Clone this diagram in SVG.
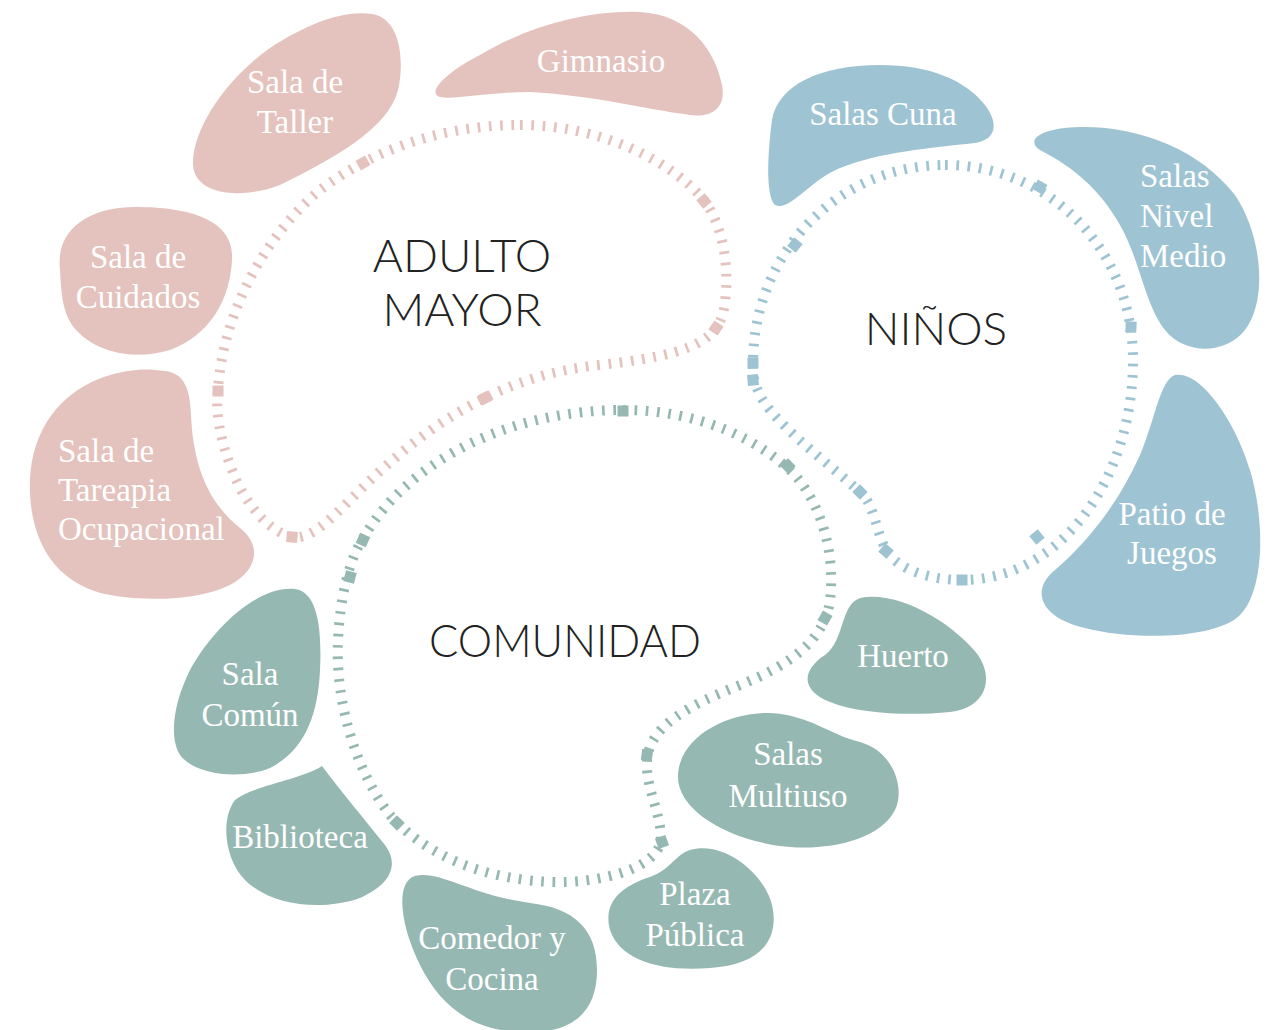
<svg xmlns="http://www.w3.org/2000/svg" width="1278" height="1030" viewBox="0 0 1278 1030">
<style>
.pink{fill:#e4c2be}
.blue{fill:#9ec4d3}
.green{fill:#96b8b2}
.tk{fill:none;stroke-width:10;stroke-dasharray:2.7 8.6}
.tp{stroke:#e4c2be}
.tb{stroke:#9ec4d3}
.tg{stroke:#96b8b2}
.lbl{font-family:"Liberation Serif","Times New Roman",serif;font-size:33px;fill:#ffffff;text-anchor:middle}
.lft{text-anchor:start}
.ttl{font-family:Lato,"DejaVu Sans",sans-serif;font-size:46px;fill:#222222;text-anchor:middle;font-weight:300}
</style>
<rect width="1278" height="1030" fill="#ffffff"/>

<g id="adulto-mayor">
<path class="tk tp" d="M 520,125 C 600,125 670,160 704,200 C 722,225 728,260 726,290 C 725,310 722,320 716,328 C 700,350 660,358 600,365 C 550,370 510,385 485,398 C 430,425 390,460 350,500 C 330,520 310,540 292,537 C 270,532 245,505 232,470 C 220,440 215,410 218,390 C 222,320 260,240 320,190 C 380,145 450,125 520,125 Z"/>
<g class="pink">
<rect x="-5.5" y="-5.5" width="11" height="11" transform="translate(363,163) rotate(-30)"/>
<rect x="-5.5" y="-5.5" width="11" height="11" transform="translate(704,201) rotate(50)"/>
<rect x="-5.5" y="-5.5" width="11" height="11" transform="translate(716,328) rotate(33)"/>
<rect x="-5.5" y="-5.5" width="11" height="11" transform="translate(485,398) rotate(-27)"/>
<rect x="-5.5" y="-5.5" width="11" height="11" transform="translate(292,537) rotate(5)"/>
<rect x="-5.5" y="-5.5" width="11" height="11" transform="translate(218,391) rotate(0)"/>
</g>
<text class="ttl" x="462" y="272">ADULTO</text>
<text class="ttl" x="462" y="326">MAYOR</text>
</g>

<g id="ninos">
<path class="tk tb" d="M 945,165 C 1050,165 1133,250 1133,360 C 1133,480 1060,580 962,580 C 930,580 900,570 887,552 C 875,530 875,505 860,492 C 830,465 790,435 770,410 C 755,392 752,375 753,360 C 755,250 840,165 945,165 Z"/>
<g class="blue">
<rect x="-5.5" y="-5.5" width="11" height="11" transform="translate(1040,187) rotate(30)"/>
<rect x="-5.5" y="-5.5" width="11" height="11" transform="translate(795,245) rotate(40)"/>
<rect x="-5.5" y="-5.5" width="11" height="11" transform="translate(1131,327) rotate(3)"/>
<rect x="-5.5" y="-5.5" width="11" height="11" transform="translate(753,363) rotate(0)"/>
<rect x="-5.5" y="-5.5" width="11" height="11" transform="translate(753,380) rotate(-5)"/>
<rect x="-5.5" y="-5.5" width="11" height="11" transform="translate(860,492) rotate(45)"/>
<rect x="-5.5" y="-5.5" width="11" height="11" transform="translate(886,551) rotate(40)"/>
<rect x="-5.5" y="-5.5" width="11" height="11" transform="translate(962,580) rotate(0)"/>
<rect x="-5.5" y="-5.5" width="11" height="11" transform="translate(1037,537) rotate(50)"/>
</g>
<text class="ttl" x="936" y="345">NIÑOS</text>
</g>

<g id="comunidad">
<path class="tk tg" d="M 623,410 C 700,410 760,440 795,475 C 825,510 835,560 830,600 C 825,640 790,665 740,685 C 690,705 650,725 647,760 C 645,790 665,820 660,845 C 650,870 600,882 560,882 C 480,882 420,850 390,815 C 355,770 335,700 338,640 C 340,600 348,560 365,535 C 410,460 510,410 623,410 Z"/>
<g class="green">
<rect x="-5.5" y="-5.5" width="11" height="11" transform="translate(623,411) rotate(0)"/>
<rect x="-5.5" y="-5.5" width="11" height="11" transform="translate(788,466) rotate(45)"/>
<rect x="-5.5" y="-5.5" width="11" height="11" transform="translate(825,618) rotate(30)"/>
<rect x="-5.5" y="-5.5" width="11" height="11" transform="translate(647,755) rotate(8)"/>
<rect x="-5.5" y="-5.5" width="11" height="11" transform="translate(662,842) rotate(-20)"/>
<rect x="-5.5" y="-5.5" width="11" height="11" transform="translate(397,823) rotate(45)"/>
<rect x="-5.5" y="-5.5" width="11" height="11" transform="translate(350,577) rotate(15)"/>
<rect x="-5.5" y="-5.5" width="11" height="11" transform="translate(363,540) rotate(25)"/>
</g>
<text class="ttl" x="565" y="657" textLength="272" lengthAdjust="spacingAndGlyphs">COMUNIDAD</text>
</g>

<g id="sala-taller">
<path class="pink" d="M 372,14 C 400,18 405,60 398,90 C 388,130 330,160 280,185 C 240,200 195,195 193,165 C 192,130 225,80 270,48 C 310,22 345,10 372,14 Z"/>
<text class="lbl" x="295" y="93">Sala de</text>
<text class="lbl" x="295" y="133">Taller</text>
</g>
<g id="gimnasio">
<path class="pink" d="M 440,97 C 425,92 450,70 480,55 C 530,25 590,10 640,12 C 690,15 715,50 722,85 C 726,105 715,118 690,115 C 640,108 590,95 530,92 C 490,92 455,100 440,97 Z"/>
<text class="lbl" x="601" y="72">Gimnasio</text>
</g>
<g id="sala-cuidados">
<path class="pink" d="M 60,270 C 55,225 95,207 135,207 C 190,207 235,220 232,260 C 230,300 210,335 170,350 C 130,362 90,350 72,325 C 62,310 61,290 60,270 Z"/>
<text class="lbl" x="138" y="268">Sala de</text>
<text class="lbl" x="138" y="308">Cuidados</text>
</g>
<g id="sala-tareapia">
<path class="pink" d="M 165,371 C 185,373 190,390 191,415 C 193,460 205,500 240,528 C 262,545 258,570 230,585 C 200,600 150,602 110,595 C 55,585 28,540 30,480 C 32,430 60,390 110,375 C 135,368 150,369 165,371 Z"/>
<text class="lbl lft" x="58" y="462">Sala de</text>
<text class="lbl lft" x="58" y="501">Tareapia</text>
<text class="lbl lft" x="58" y="540">Ocupacional</text>
</g>

<g id="salas-cuna">
<path class="blue" d="M 775,205 C 765,195 768,150 772,120 C 778,85 820,65 880,65 C 930,65 965,80 985,105 C 1000,125 995,140 975,143 C 930,148 880,152 840,168 C 810,180 790,212 775,205 Z"/>
<text class="lbl" x="883" y="125">Salas Cuna</text>
</g>
<g id="salas-nivel-medio">
<path class="blue" d="M 1040,150 C 1025,140 1040,128 1080,127 C 1140,126 1200,150 1235,195 C 1262,235 1268,300 1245,330 C 1225,355 1185,355 1165,330 C 1145,305 1140,260 1120,225 C 1100,190 1075,168 1040,150 Z"/>
<text class="lbl lft" x="1140" y="187">Salas</text>
<text class="lbl lft" x="1140" y="227">Nivel</text>
<text class="lbl lft" x="1140" y="267">Medio</text>
</g>
<g id="patio-juegos">
<path class="blue" d="M 1175,375 C 1200,370 1235,420 1250,470 C 1265,520 1265,590 1240,615 C 1215,640 1130,640 1085,628 C 1040,618 1030,590 1055,570 C 1090,540 1120,500 1140,455 C 1155,420 1160,380 1175,375 Z"/>
<text class="lbl" x="1172" y="525">Patio de</text>
<text class="lbl" x="1172" y="564">Juegos</text>
</g>

<g id="sala-comun">
<path class="green" d="M 295,589 C 318,592 322,630 320,670 C 318,715 305,750 270,768 C 240,780 195,775 180,755 C 168,735 175,700 190,670 C 215,625 260,585 295,589 Z"/>
<text class="lbl" x="250" y="685">Sala</text>
<text class="lbl" x="250" y="726">Común</text>
</g>
<g id="biblioteca">
<path class="green" d="M 322,766 C 340,790 365,820 385,845 C 400,865 390,885 360,898 C 320,912 270,905 245,880 C 225,860 220,820 235,800 C 255,785 300,780 322,766 Z"/>
<text class="lbl" x="300" y="848">Biblioteca</text>
</g>
<g id="comedor-cocina">
<path class="green" d="M 415,876 C 440,870 470,895 530,903 C 575,908 597,930 597,970 C 597,1010 575,1035 520,1032 C 470,1030 440,1005 420,965 C 400,925 395,882 415,876 Z"/>
<text class="lbl" x="492" y="949">Comedor y</text>
<text class="lbl" x="492" y="990">Cocina</text>
</g>
<g id="plaza-publica">
<path class="green" d="M 690,850 C 725,840 765,875 772,905 C 780,940 760,965 710,968 C 660,972 620,960 610,930 C 602,900 625,885 650,877 C 670,870 675,855 690,850 Z"/>
<text class="lbl" x="695" y="905">Plaza</text>
<text class="lbl" x="695" y="946">Pública</text>
</g>
<g id="salas-multiuso">
<path class="green" d="M 678,775 C 680,735 730,712 770,713 C 810,715 830,735 860,742 C 895,752 905,790 895,810 C 880,840 830,850 790,847 C 730,842 676,810 678,775 Z"/>
<text class="lbl" x="788" y="765">Salas</text>
<text class="lbl" x="788" y="807">Multiuso</text>
</g>
<g id="huerto">
<path class="green" d="M 860,598 C 900,590 955,625 978,655 C 995,680 985,708 950,712 C 910,716 860,714 830,702 C 800,690 802,670 825,655 C 845,640 840,605 860,598 Z"/>
<text class="lbl" x="903" y="667">Huerto</text>
</g>
</svg>
